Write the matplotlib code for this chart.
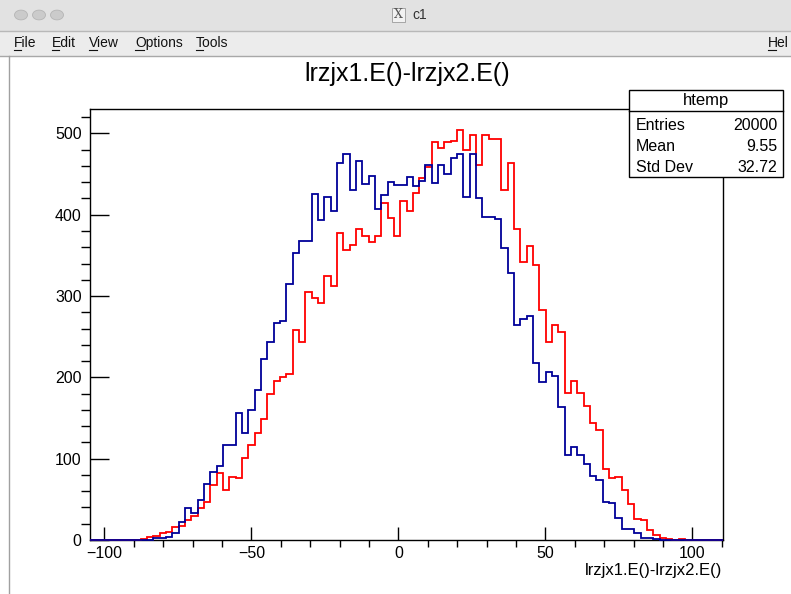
import numpy as np
import matplotlib
matplotlib.use('Agg')
import matplotlib.pyplot as plt
from matplotlib.patches import Rectangle, Circle
from matplotlib.lines import Line2D
from matplotlib.ticker import MultipleLocator

# htemp binning: 100 bins over the automatic range
nbins = 100
xmin = -104.9
xmax = 110.4

# blue = htemp (default line colour), red = second histogram drawn "same"
blue_counts = [
    0, 0, 0, 0, 0, 0, 0, 0, 0, 0,
    2, 2, 4, 9, 22, 39, 33, 49, 69, 84,
    91, 117, 117, 156, 132, 160, 184, 223, 244, 267,
    269, 315, 353, 368, 368, 426, 393, 422, 405, 464,
    475, 431, 466, 438, 447, 407, 424, 440, 436, 437,
    446, 435, 442, 461, 439, 461, 450, 470, 475, 422,
    475, 420, 397, 397, 395, 359, 328, 264, 272, 275,
    218, 194, 206, 202, 163, 105, 114, 105, 94, 79,
    74, 47, 45, 27, 14, 14, 8, 2, 2, 1,
    0, 0, 0, 0, 0, 0, 0, 0, 0, 0,
]
red_counts = [
    0, 0, 0, 0, 0, 0, 0, 0, 1, 4,
    5, 9, 10, 16, 17, 25, 29, 39, 47, 68,
    82, 61, 78, 76, 101, 117, 132, 149, 180, 196,
    200, 204, 258, 244, 305, 297, 291, 325, 312, 378,
    356, 363, 383, 374, 367, 374, 415, 396, 374, 417,
    405, 427, 445, 459, 490, 482, 489, 491, 504, 480,
    498, 461, 498, 493, 493, 431, 464, 383, 342, 362,
    338, 283, 244, 264, 256, 181, 196, 181, 165, 144,
    135, 87, 76, 78, 61, 44, 26, 24, 12, 6,
    2, 1, 0, 1, 0, 0, 0, 0, 0, 0,
]

stat_labels = ['Entries', 'Mean', 'Std Dev']
stat_values = ['20000', '9.55', '32.72']
menu_items = ['File', 'Edit', 'View', 'Options', 'Tools']

title = 'lrzjx1.E()-lrzjx2.E()'

W, H = 791, 594


def fx(x):
    return x / W


def fy(y):
    return 1 - y / H


plt.rcParams['font.family'] = ['Liberation Sans', 'DejaVu Sans']

fig = plt.figure(figsize=(W / 100, H / 100), dpi=100)
fig.patch.set_facecolor('white')

# --- window decoration (title bar + menu bar) ---
fig.add_artist(Rectangle((0, fy(31)), 1, 31 / H, transform=fig.transFigure,
                         facecolor='#e2e2e2', edgecolor='none'))
fig.add_artist(Rectangle((0, fy(56)), 1, 25 / H, transform=fig.transFigure,
                         facecolor='#ececec', edgecolor='none'))
for yy, c in [(31, '#b8b8b8'), (56, '#a8a8a8')]:
    fig.add_artist(Line2D([0, 1], [fy(yy), fy(yy)], transform=fig.transFigure,
                          color=c, lw=1))
fig.add_artist(Line2D([fx(9), fx(9)], [0, fy(56)], transform=fig.transFigure,
                      color='#a0a0a0', lw=1))
for cx in [21, 39, 57]:
    fig.add_artist(Circle((fx(cx), fy(15)), 6.5 / W, transform=fig.transFigure,
                          facecolor='#cbcbcb', edgecolor='#b5b5b5', lw=0.6))
fig.add_artist(Rectangle((fx(392), fy(22)), 13 / W, 14 / H, transform=fig.transFigure,
                         facecolor='#f2f2f2', edgecolor='#9a9a9a', lw=0.6))
fig.text(fx(398.5), fy(15), 'X', ha='center', va='center', fontsize=9,
         color='#555555', family='DejaVu Serif')
fig.text(fx(412), fy(15), 'c1', ha='left', va='center', fontsize=10, color='#333333')

menu_x = [14, 52, 89, 135, 196]
for name, mx in zip(menu_items, menu_x):
    t = fig.text(fx(mx), fy(43), name, ha='left', va='center', fontsize=10, color='#111111')
fig.text(fx(768), fy(43), 'Hel', ha='left', va='center', fontsize=10, color='#111111')
# underlined accelerator letters
for mx, w in zip(menu_x + [768], [7, 7, 8, 9, 7, 8]):
    fig.add_artist(Line2D([fx(mx), fx(mx + w)], [fy(50), fy(50)],
                          transform=fig.transFigure, color='#111111', lw=0.8))

# --- histogram pad ---
edges = np.linspace(xmin, xmax, nbins + 1)

ax = fig.add_axes([fx(90), fy(540), (723 - 90) / W, (540 - 109) / H])
ax.stairs(red_counts, edges, color='#ff0000', lw=1.3, zorder=3, clip_on=False)
ax.stairs(blue_counts, edges, color='#000099', lw=1.3, zorder=3.1, clip_on=False)

ax.set_xlim(xmin, xmax)
ax.set_ylim(0, 530)

ax.xaxis.set_major_locator(MultipleLocator(50))
ax.xaxis.set_minor_locator(MultipleLocator(10))
ax.yaxis.set_major_locator(MultipleLocator(100))
ax.yaxis.set_minor_locator(MultipleLocator(20))
ax.tick_params(direction='in', top=False, right=False, colors='black')
ax.tick_params(axis='x', which='major', length=9.5, width=1, labelsize=11.5, pad=4)
ax.tick_params(axis='x', which='minor', length=4.8, width=1)
ax.tick_params(axis='y', which='major', length=13.5, width=1, labelsize=11.5, pad=6)
ax.tick_params(axis='y', which='minor', length=6.8, width=1)
for sp in ax.spines.values():
    sp.set_linewidth(1)
    sp.set_color('black')

fig.text(fx(407), fy(74), title, ha='center', va='center', fontsize=18)
fig.text(fx(722), fy(570), title, ha='right', va='center', fontsize=12)

# --- stats box ---
bx0, bx1, by0, by1 = 629, 783, 90, 177
fig.add_artist(Rectangle((fx(bx0), fy(by1)), (bx1 - bx0) / W, (by1 - by0) / H,
                         transform=fig.transFigure, facecolor='white',
                         edgecolor='black', lw=1, zorder=5))
fig.add_artist(Line2D([fx(bx0), fx(bx1)], [fy(111), fy(111)], transform=fig.transFigure,
                      color='black', lw=1, zorder=6))
fig.text(fx((bx0 + bx1) / 2), fy(101), 'htemp', ha='center', va='center',
         fontsize=12, zorder=7)
for i, (lab, val) in enumerate(zip(stat_labels, stat_values)):
    yy = 126 + i * 20.5
    fig.text(fx(636), fy(yy), lab, ha='left', va='center', fontsize=11.5, zorder=7)
    fig.text(fx(777), fy(yy), val, ha='right', va='center', fontsize=11.5, zorder=7)

plt.savefig('out.png', dpi=100)
